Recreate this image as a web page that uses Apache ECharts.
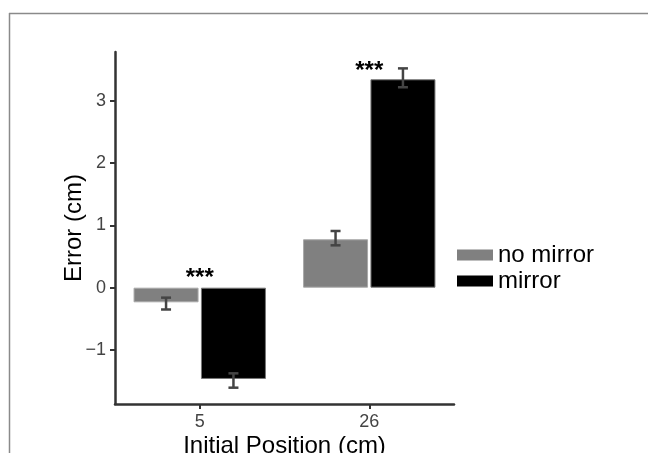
<!DOCTYPE html>
<html>
<head>
<meta charset="utf-8">
<script src="https://cdn.jsdelivr.net/npm/echarts@6/dist/echarts.min.js"></script>
<style>
html,body{margin:0;padding:0;background:#fff;}
#chart{width:648px;height:453px;}
</style>
</head>
<body>
<div id="chart"></div>
<script>
var categories = ['5', '26'];
var seriesNames = ['no mirror', 'mirror'];
var noMirror = [-0.235, 0.777];
var mirror = [-1.465, 3.345];
var noMirrorLow = [-0.35, 0.68];
var noMirrorHigh = [-0.16, 0.91];
var mirrorLow = [-1.605, 3.217];
var mirrorHigh = [-1.375, 3.52];
var sigLabels = ['***', '***'];
var sigY = [0.23, 3.56];
var yTicks = [-1, 0, 1, 2, 3];

var FONT = "'Liberation Sans', Arial, Helvetica, sans-serif";
var BAR_W = 65;
var BAR_GAP_PX = 2.4;
var OFFSET = (BAR_W + BAR_GAP_PX) / 2;

function errData(low, high) {
  return categories.map(function (c, i) { return [i, low[i], high[i]]; });
}

function errRender(offset) {
  return function (params, api) {
    var x = api.value(0);
    var lo = api.coord([x, api.value(1)]);
    var hi = api.coord([x, api.value(2)]);
    var cx = lo[0] + offset;
    var cap = 5;
    var style = { stroke: '#444', lineWidth: 2.5 };
    return {
      type: 'group',
      children: [
        { type: 'line', shape: { x1: cx, y1: lo[1], x2: cx, y2: hi[1] }, style: style },
        { type: 'line', shape: { x1: cx - cap, y1: lo[1], x2: cx + cap, y2: lo[1] }, style: style },
        { type: 'line', shape: { x1: cx - cap, y1: hi[1], x2: cx + cap, y2: hi[1] }, style: style }
      ]
    };
  };
}

var chart = echarts.init(document.getElementById('chart'), null, { renderer: 'canvas' });
chart.setOption({
  animation: false,
  backgroundColor: '#fff',
  textStyle: { fontFamily: FONT },
  graphic: [
    { type: 'line', shape: { x1: 9, y1: 13.5, x2: 648, y2: 13.5 }, style: { stroke: '#8a8a8a', lineWidth: 1.5 }, silent: true },
    { type: 'line', shape: { x1: 9.5, y1: 13, x2: 9.5, y2: 453 }, style: { stroke: '#8a8a8a', lineWidth: 1.5 }, silent: true }
  ],
  grid: { left: 115, right: 194, top: 52, bottom: 49, containLabel: false, outerBoundsMode: 'none' },
  legend: {
    data: seriesNames,
    orient: 'vertical',
    left: 457,
    top: 243,
    padding: 0,
    itemGap: 2,
    itemWidth: 36,
    itemHeight: 11,
    icon: 'rect',
    itemStyle: { borderWidth: 0 },
    textStyle: { fontSize: 24, color: '#000', fontFamily: FONT, lineHeight: 24 }
  },
  xAxis: {
    type: 'category',
    data: categories,
    boundaryGap: true,
    name: 'Initial Position (cm)',
    nameLocation: 'middle',
    nameGap: 30,
    nameMoveOverlap: false,
    nameTextStyle: { fontSize: 24, color: '#000', fontFamily: FONT },
    axisLine: { show: true, onZero: false, lineStyle: { color: '#333', width: 2.5 } },
    axisTick: { show: true, alignWithLabel: true, length: 5, lineStyle: { color: '#333', width: 2 } },
    axisLabel: { fontSize: 18, color: '#444', margin: 9, fontFamily: FONT },
    splitLine: { show: false }
  },
  yAxis: {
    type: 'value',
    min: -1.867,
    max: 3.783,
    name: 'Error (cm)',
    nameLocation: 'middle',
    nameGap: 29,
    nameMoveOverlap: false,
    nameTextStyle: { fontSize: 24, color: '#000', fontFamily: FONT },
    axisLine: { show: true, lineStyle: { color: '#333', width: 2.5 } },
    axisTick: { show: true, length: 5, customValues: yTicks, lineStyle: { color: '#333', width: 2 } },
    axisLabel: {
      fontSize: 18, color: '#444', margin: 9, fontFamily: FONT,
      customValues: yTicks,
      formatter: function (v) { return v < 0 ? '\u2212' + Math.abs(v) : String(v); }
    },
    splitLine: { show: false }
  },
  series: [
    {
      name: seriesNames[0], type: 'bar', data: noMirror,
      barWidth: BAR_W, barGap: (BAR_GAP_PX / BAR_W * 100).toFixed(1) + '%',
      itemStyle: { color: '#808080', borderColor: '#a8a8a8', borderWidth: 1 }
    },
    {
      name: seriesNames[1], type: 'bar', data: mirror,
      barWidth: BAR_W,
      itemStyle: { color: '#000000', borderColor: '#777', borderWidth: 1 }
    },
    {
      type: 'custom', name: 'err0', data: errData(noMirrorLow, noMirrorHigh),
      renderItem: errRender(-OFFSET), z: 5, silent: true
    },
    {
      type: 'custom', name: 'err1', data: errData(mirrorLow, mirrorHigh),
      renderItem: errRender(OFFSET), z: 5, silent: true
    },
    {
      type: 'custom', name: 'sig',
      data: categories.map(function (c, i) { return [i, sigY[i]]; }),
      z: 6, silent: true,
      renderItem: function (params, api) {
        var p = api.coord([api.value(0), api.value(1)]);
        return {
          type: 'text',
          style: {
            text: sigLabels[params.dataIndex],
            x: p[0], y: p[1] + 5,
            align: 'center', verticalAlign: 'middle',
            font: 'bold 24px ' + FONT,
            fill: '#000'
          }
        };
      }
    }
  ]
});
</script>
</body>
</html>
